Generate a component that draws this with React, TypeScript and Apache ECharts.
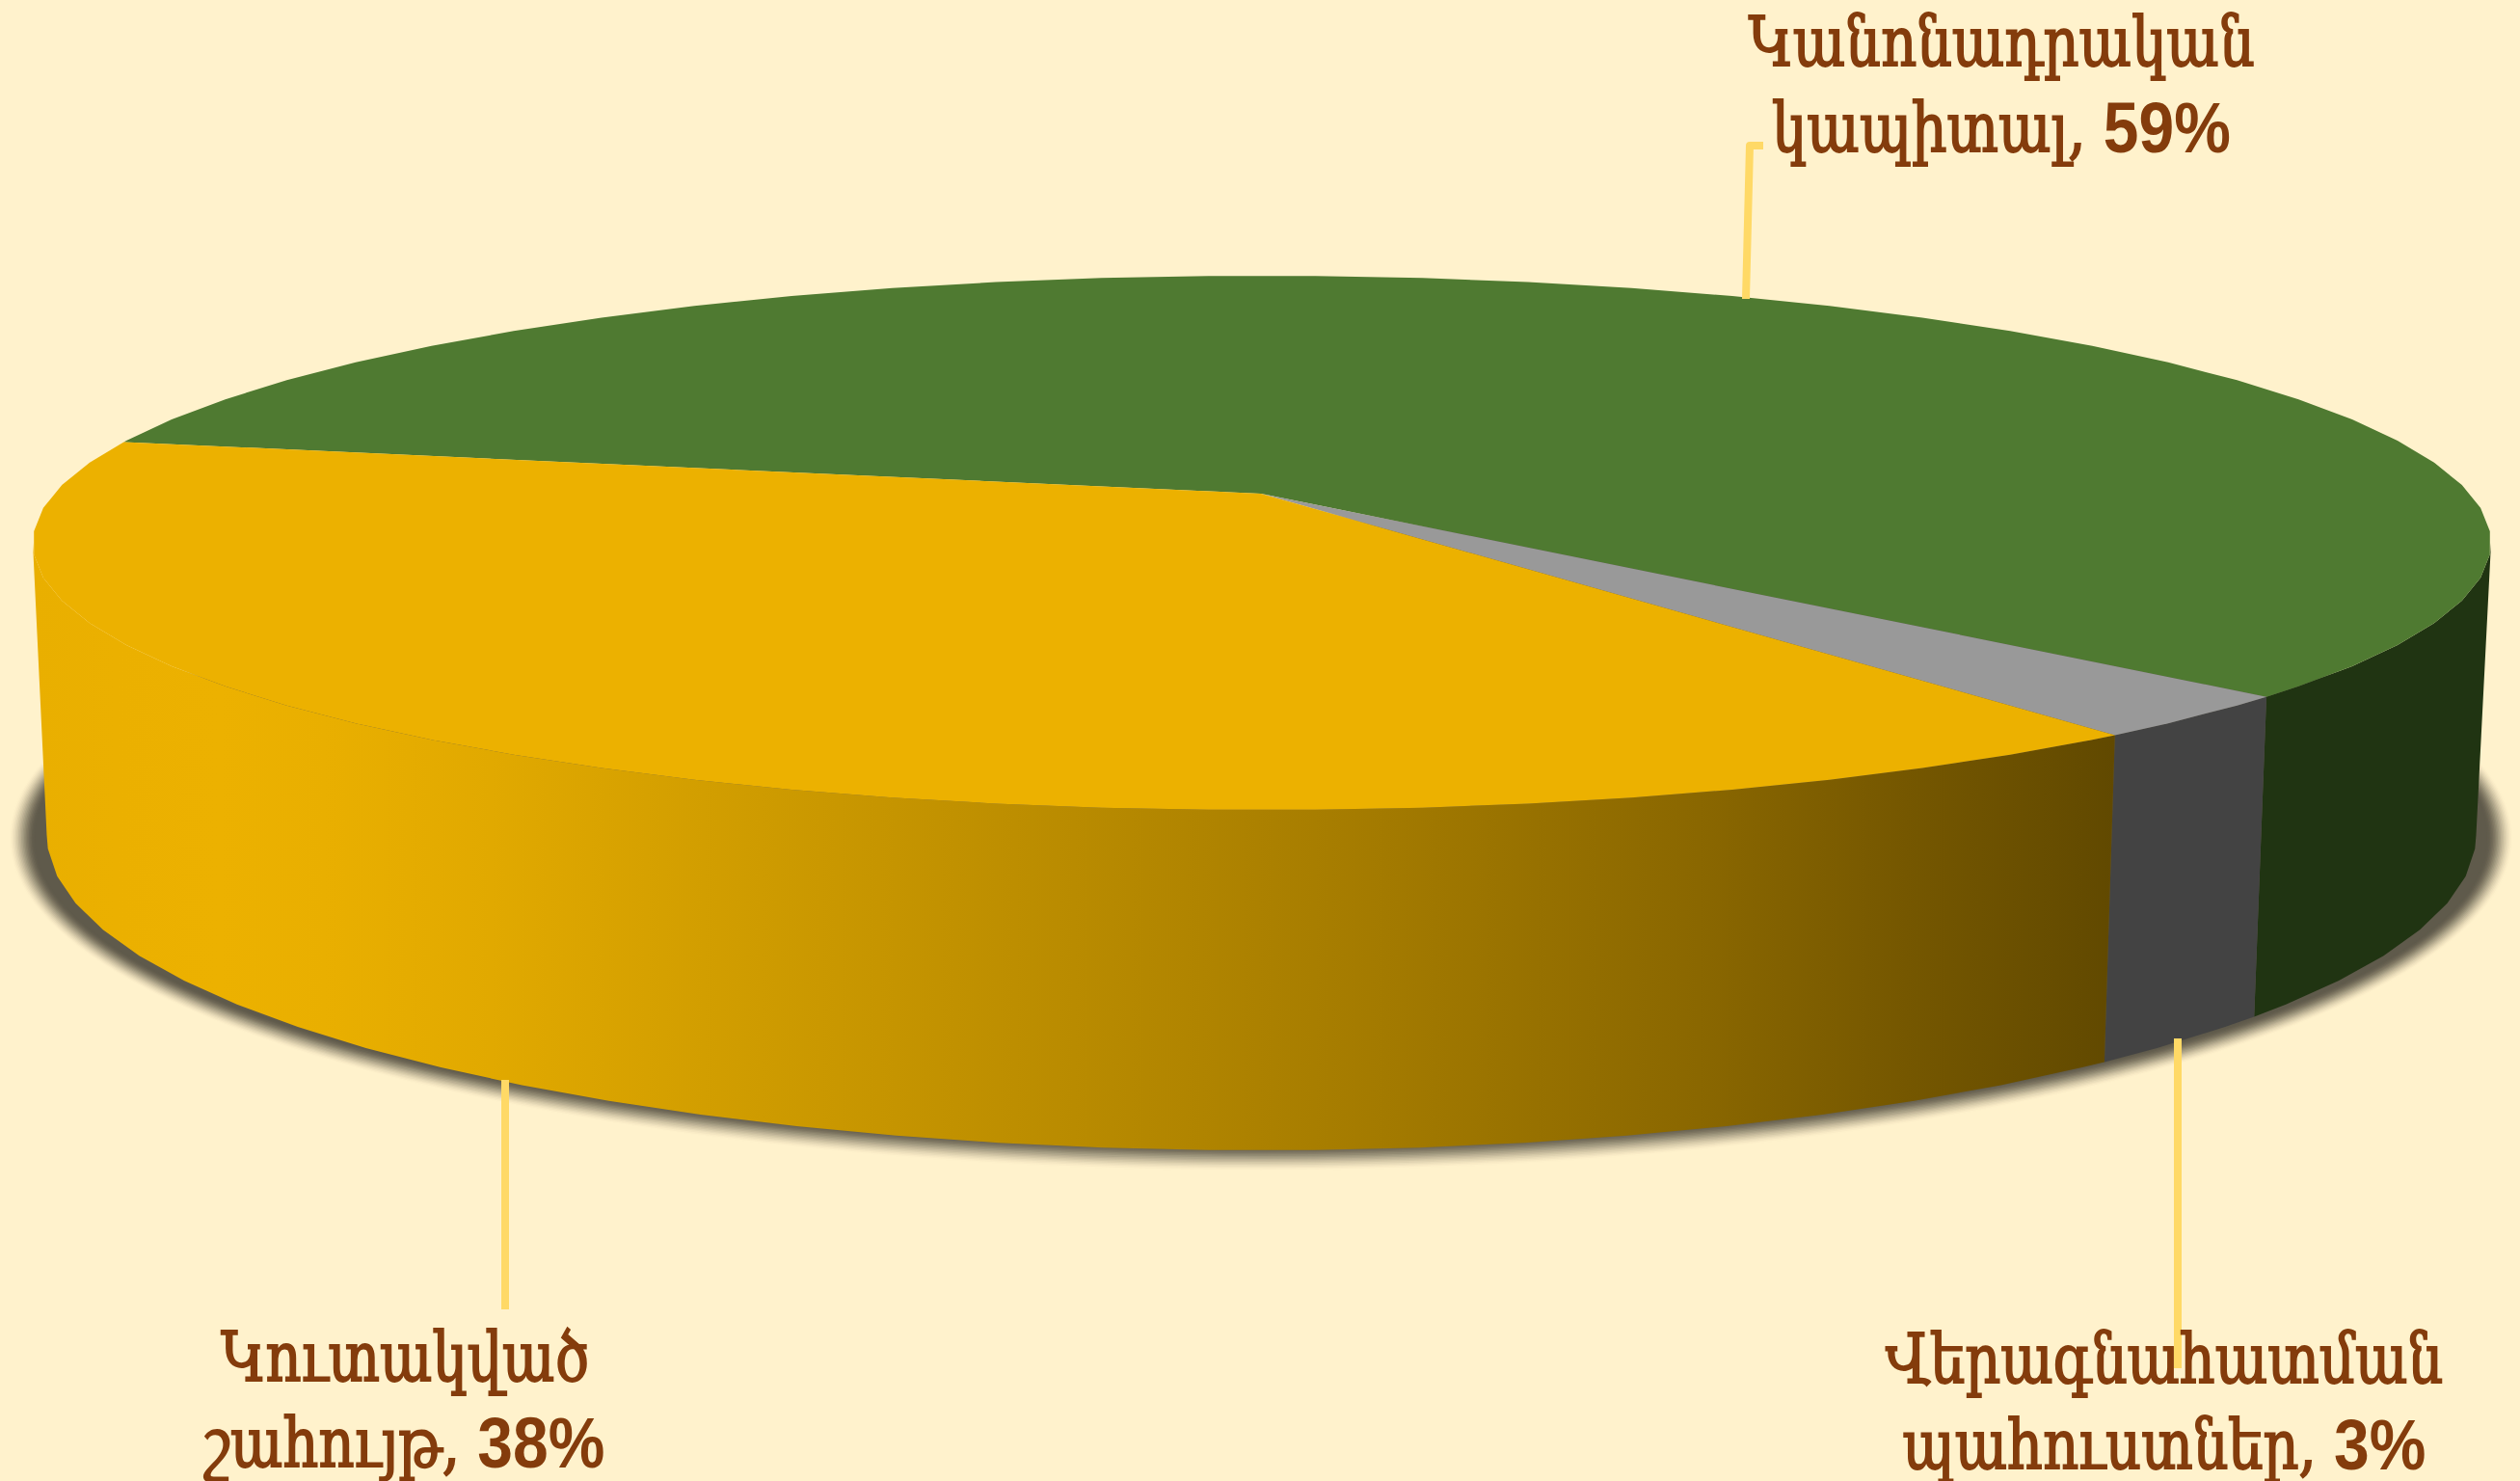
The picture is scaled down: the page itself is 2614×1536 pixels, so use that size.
import React, { useEffect, useRef } from "react";
import * as echarts from "echarts";

const categories = ["Կանոնադրական\nկապիտալ", "Վերագնահատման\nպահուստներ", "Կուտակված\nշահույթ"];
const shares = [58.73, 2.65, 38.62];
const percentLabels = ["59%", "3%", "38%"];
const topColors = ["#4F7A31", "#999999", "#ECB100"];
const sideColors = ["#203412", "#434343", "yellow-gradient"];
const labelCenters = [[2076, 88], [2245, 1454], [420, 1452]];
const leaderPaths = [
  [[1811, 310], [1815, 151], [1829, 151]],
  [[2259, 1077], [2259, 1419]],
  [[524, 1120], [524, 1358]],
];

const W = 2614, H = 1536;
const TOP = { cx: 1309, cy: 563, rx: 1275, ry: 277 };
const BOT = { cx: 1308.5, cy: 866, rx: 1260, ry: 327 };
const APEX = { x: 1308, y: 512 };
const E = (APEX.y - TOP.cy) / TOP.ry;
const START_DEG = 192;
const FONT_ARM = "'DejaVu Serif Condensed','DejaVu Serif',serif";
const FONT_NUM = "'Liberation Sans',Arial,sans-serif";

const rad = (d: number) => (d * Math.PI) / 180;
const deg = (r: number) => (r * 180) / Math.PI;

// world angle on the flat disc -> parameter on the perspective-projected ellipse
function worldToParam(th: number) {
  const u = Math.cos(rad(th)), v = Math.sin(rad(th));
  const d = 1 + E * v;
  const vp = (v + E) / d;
  const up = (u * Math.sqrt(1 - E * E)) / d;
  let t = deg(Math.atan2(vp, up));
  const turns = Math.floor(th / 360);
  t += 360 * turns;
  while (t < th - 180) t += 360;
  while (t > th + 180) t -= 360;
  return t;
}
function arcParams(t0: number, t1: number) {
  const out = [t0];
  let k = Math.ceil((t0 - 2.5) / 5);
  for (let t = 2.5 + 5 * k; t < t1; t += 5) if (t > t0) out.push(t);
  out.push(t1);
  return out;
}
const pt = (e: typeof TOP, t: number) => [e.cx + e.rx * Math.cos(rad(t)), e.cy + e.ry * Math.sin(rad(t))];

function sliceRange(i: number) {
  const total = shares.reduce((a, b) => a + b, 0);
  let acc = 0;
  for (let k = 0; k < i; k++) acc += shares[k];
  const a = START_DEG + (acc / total) * 360;
  const b = a + (shares[i] / total) * 360;
  return [worldToParam(a), worldToParam(b)];
}

const yellowGrad = () => new echarts.graphic.LinearGradient(0, 0, 1, 0, [
  { offset: 0, color: "#E9AF00" },
  { offset: 0.04, color: "#EBB000" },
  { offset: 0.09, color: "#ECB100" },
  { offset: 0.14, color: "#E9AF00" },
  { offset: 0.22, color: "#E1A900" },
  { offset: 0.35, color: "#CE9B00" },
  { offset: 0.5, color: "#B98B00" },
  { offset: 0.65, color: "#A37A00" },
  { offset: 0.8, color: "#8A6700" },
  { offset: 0.9, color: "#755700" },
  { offset: 1, color: "#614900" },
]);

function smooth(x: number) { return x * x * (3 - 2 * x); }

function renderShadow(_p: any, api: any) {
  const N = 18, cx = 1308, cy = 869, rx = 1280, ry = 327, spread = 14;
  const children: any[] = [];
  let prev = 0;
  for (let i = 0; i < N; i++) {
    const f = (i + 1) / N;
    const c = smooth(f);
    const a = i === N - 1 ? 1 : 1 - (1 - c) / (1 - prev);
    prev = c;
    const d = spread * (1 - f) * 2 - spread;
    children.push({
      type: "ellipse",
      shape: { cx, cy, rx: rx + d + 6, ry: ry + d + 6 },
      style: { fill: "#5F5A4B", opacity: a },
    });
  }
  return { type: "group", children };
}

function renderSide(p: any, api: any) {
  const i = p.dataIndex;
  const [a, b] = sliceRange(i);
  const children: any[] = [];
  for (const off of [-360, 0, 360]) {
    const t0 = Math.max(a + off, 0), t1 = Math.min(b + off, 180);
    if (t1 <= t0) continue;
    const ps = arcParams(t0, t1);
    const points = [...ps.map((t) => pt(TOP, t)), ...ps.slice().reverse().map((t) => pt(BOT, t))];
    const fill = sideColors[i] === "yellow-gradient" ? yellowGrad() : sideColors[i];
    children.push({ type: "polygon", shape: { points }, style: { fill } });
  }
  return { type: "group", children };
}

function renderTop(p: any, api: any) {
  const i = p.dataIndex;
  const [a, b] = sliceRange(i);
  const ps = arcParams(a, b);
  const points = [[APEX.x, APEX.y], ...ps.map((t) => pt(TOP, t))];
  return { type: "polygon", shape: { points }, style: { fill: topColors[i] } };
}

function renderLabel(p: any, api: any) {
  const i = p.dataIndex;
  const [l1, l2] = categories[i].split("\n");
  const sy = 1.12;
  return {
    type: "group",
    children: [
      {
        type: "polyline",
        shape: { points: leaderPaths[i] },
        style: { stroke: "#FFD966", lineWidth: 8, fill: "none", lineJoin: "round" },
      },
      {
        type: "text",
        x: labelCenters[i][0],
        y: labelCenters[i][1],
        scaleY: sy,
        z2: 5,
        style: {
          text: `{a|${l1}}\n{a|${l2}, }{b|${percentLabels[i]}}`,
          align: "center",
          verticalAlign: "middle",
          rich: {
            a: { fontFamily: FONT_ARM, fontSize: 64, lineHeight: 89 / sy, fill: "#843C0C", fontWeight: 400, stroke: "#843C0C", lineWidth: 1.6 },
            b: { fontFamily: FONT_NUM, fontSize: 66, lineHeight: 89 / sy, fill: "#843C0C", fontWeight: 700 },
          },
        },
      },
    ],
  };
}

export default function App() {
  const ref = useRef<HTMLDivElement>(null);
  useEffect(() => {
    document.body.style.margin = "0";
    const chart = echarts.init(ref.current!, undefined, { renderer: "svg" });
    const data = categories.map((c, i) => ({ name: c.replace("\n", " "), value: [shares[i]] }));
    chart.setOption({
      animation: false,
      backgroundColor: "#FFF2CC",
      series: [
        { type: "custom", coordinateSystem: "none", z: 1, silent: true, data: [{ value: [1] }], renderItem: renderShadow },
        { type: "custom", coordinateSystem: "none", z: 2, silent: true, data, renderItem: renderSide },
        { type: "custom", coordinateSystem: "none", z: 3, silent: true, data, renderItem: renderTop },
        { type: "custom", coordinateSystem: "none", z: 4, silent: true, data, renderItem: renderLabel },
      ],
    });
    return () => chart.dispose();
  }, []);
  return <div ref={ref} style={{ width: W, height: H, overflow: "hidden" }} />;
}
